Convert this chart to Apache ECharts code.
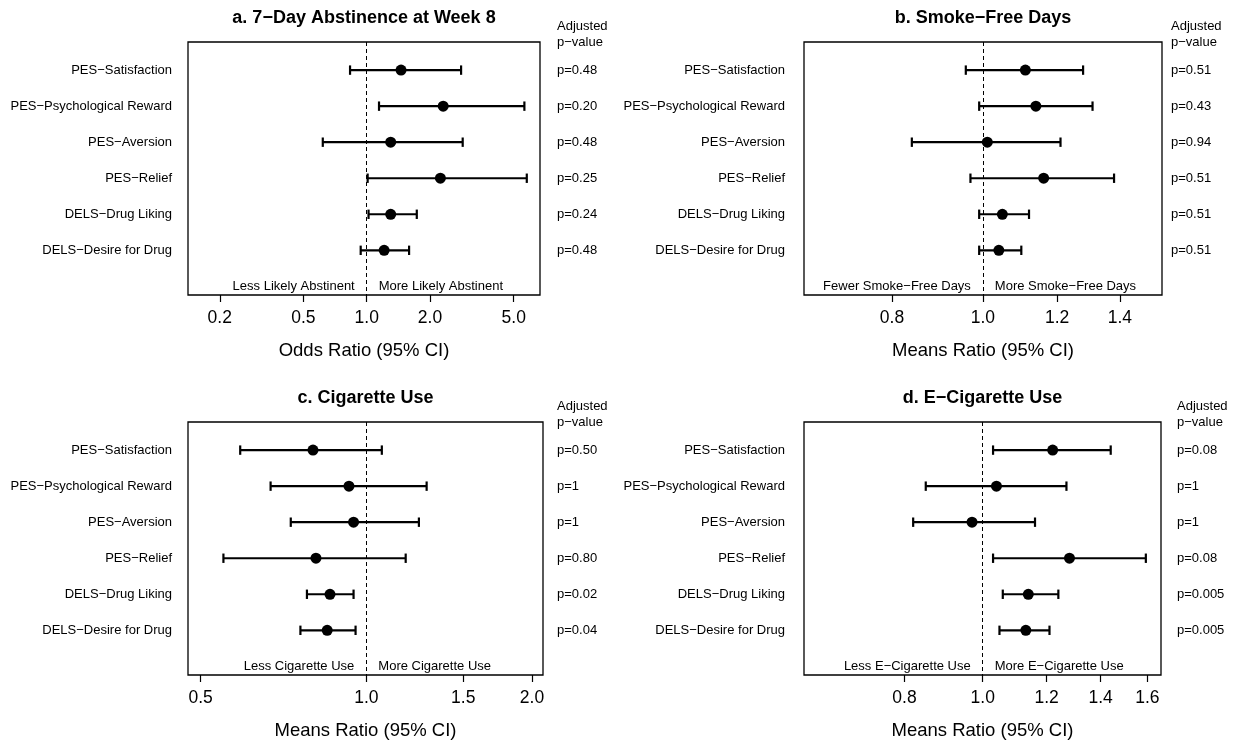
<!DOCTYPE html>
<html><head><meta charset="utf-8">
<script src="https://cdn.jsdelivr.net/npm/echarts@6/dist/echarts.min.js"></script>
<style>html,body{margin:0;padding:0;background:#fff}#c{width:1246px;height:743px}</style>
</head><body><div id="c"></div>
<script>
// ---------- data ----------
const rowLabels = ["PES−Satisfaction","PES−Psychological Reward","PES−Aversion","PES−Relief","DELS−Drug Liking","DELS−Desire for Drug"];

const aTitle = "a. 7−Day Abstinence at Week 8";
const aEst  = [1.456, 2.31, 1.30, 2.24, 1.30, 1.21];
const aLow  = [0.833, 1.144, 0.618, 1.01, 1.02, 0.936];
const aHigh = [2.81, 5.62, 2.86, 5.77, 1.73, 1.59];
const aP    = ["p=0.48","p=0.20","p=0.48","p=0.25","p=0.24","p=0.48"];
const aTicks = [0.2, 0.5, 1.0, 2.0, 5.0];
const aTickLabels = ["0.2","0.5","1.0","2.0","5.0"];
const aAxisName = "Odds Ratio (95% CI)";
const aNotes = ["Less Likely Abstinent","More Likely Abstinent"];

const bTitle = "b. Smoke−Free Days";
const bEst  = [1.110, 1.139, 1.011, 1.161, 1.049, 1.040];
const bLow  = [0.959, 0.991, 0.840, 0.970, 0.991, 0.991];
const bHigh = [1.279, 1.309, 1.210, 1.380, 1.120, 1.099];
const bP    = ["p=0.51","p=0.43","p=0.94","p=0.51","p=0.51","p=0.51"];
const bTicks = [0.8, 1.0, 1.2, 1.4];
const bTickLabels = ["0.8","1.0","1.2","1.4"];
const bAxisName = "Means Ratio (95% CI)";
const bNotes = ["Fewer Smoke−Free Days","More Smoke−Free Days"];

const cTitle = "c. Cigarette Use";
const cEst  = [0.800, 0.930, 0.948, 0.810, 0.859, 0.849];
const cLow  = [0.590, 0.670, 0.729, 0.550, 0.780, 0.759];
const cHigh = [1.067, 1.287, 1.246, 1.179, 0.948, 0.956];
const cP    = ["p=0.50","p=1","p=1","p=0.80","p=0.02","p=0.04"];
const cTicks = [0.5, 1.0, 1.5, 2.0];
const cTickLabels = ["0.5","1.0","1.5","2.0"];
const cAxisName = "Means Ratio (95% CI)";
const cNotes = ["Less Cigarette Use","More Cigarette Use"];

const dTitle = "d. E−Cigarette Use";
const dEst  = [1.221, 1.040, 0.970, 1.281, 1.139, 1.131];
const dLow  = [1.030, 0.850, 0.820, 1.030, 1.059, 1.049];
const dHigh = [1.441, 1.270, 1.161, 1.593, 1.241, 1.210];
const dP    = ["p=0.08","p=1","p=1","p=0.08","p=0.005","p=0.005"];
const dTicks = [0.8, 1.0, 1.2, 1.4, 1.6];
const dTickLabels = ["0.8","1.0","1.2","1.4","1.6"];
const dAxisName = "Means Ratio (95% CI)";
const dNotes = ["Less E−Cigarette Use","More E−Cigarette Use"];

// ---------- layout ----------
const FONT = "'Liberation Sans', Arial, Helvetica, sans-serif";
const L10 = Math.log10;
const panels = [
  {title:aTitle, est:aEst, low:aLow, high:aHigh, p:aP, ticks:aTicks, tl:aTickLabels, name:aAxisName, notes:aNotes,
   left:188, top:42, width:352, xmin:-0.85, xmax:0.824, pGap:17, labGap:16, hdrX:557},
  {title:bTitle, est:bEst, low:bLow, high:bHigh, p:bP, ticks:bTicks, tl:bTickLabels, name:bAxisName, notes:bNotes,
   left:804, top:42, width:358, xmin:-0.1907, xmax:0.191, pGap:9, labGap:19, hdrX:1171},
  {title:cTitle, est:cEst, low:cLow, high:cHigh, p:cP, ticks:cTicks, tl:cTickLabels, name:cAxisName, notes:cNotes,
   left:188, top:422, width:355, xmin:-0.324, xmax:0.321, pGap:14, labGap:16, hdrX:557},
  {title:dTitle, est:dEst, low:dLow, high:dHigh, p:dP, ticks:dTicks, tl:dTickLabels, name:dAxisName, notes:dNotes,
   left:804, top:422, width:357, xmin:-0.2215, xmax:0.221, pGap:16, labGap:19, hdrX:1177}
];
const H = 253, YMIN = 0.22, YMAX = 7.24;

const grid = [], xAxis = [], yAxis = [], series = [], graphic = [];
panels.forEach((P, i) => {
  grid.push({left:P.left, top:P.top, width:P.width, height:H, show:true, borderColor:'#000', borderWidth:1.3, backgroundColor:'transparent'});
  const tv = P.ticks.map(L10);
  xAxis.push({
    gridIndex:i, type:'value', min:P.xmin, max:P.xmax,
    axisLine:{show:false}, splitLine:{show:false},
    axisTick:{show:true, customValues:tv, length:7, lineStyle:{color:'#000', width:1.2}},
    axisLabel:{customValues:tv, margin:14, fontSize:17.5, color:'#000', fontFamily:FONT,
      formatter:(v)=>{ let k=0, best=1e9; tv.forEach((t,j)=>{const d=Math.abs(t-v); if(d<best){best=d;k=j;}}); return P.tl[k]; }},
    name:P.name, nameLocation:'middle', nameGap:46,
    nameTextStyle:{fontSize:18.5, color:'#000', fontFamily:FONT}
  });
  const rows = [1,2,3,4,5,6];
  yAxis.push({
    gridIndex:i, type:'value', inverse:true, min:YMIN, max:YMAX, position:'left',
    axisLine:{show:false}, axisTick:{show:false}, splitLine:{show:false},
    axisLabel:{customValues:rows, margin:P.labGap, fontSize:13, color:'#000', fontFamily:FONT,
      formatter:(v)=>rowLabels[Math.round(v)-1]}
  });
  yAxis.push({
    gridIndex:i, type:'value', inverse:true, min:YMIN, max:YMAX, position:'right',
    axisLine:{show:false}, axisTick:{show:false}, splitLine:{show:false},
    axisLabel:{customValues:rows, margin:P.pGap, fontSize:13, color:'#000', fontFamily:FONT,
      formatter:(v)=>P.p[Math.round(v)-1]}
  });
  // error bars
  series.push({
    type:'custom', xAxisIndex:i, yAxisIndex:2*i,
    data: P.low.map((lo, j) => [L10(lo), L10(P.high[j]), j+1]),
    encode:{x:[0,1], y:2},
    renderItem:(params, api) => {
      const y = api.value(2);
      const p1 = api.coord([api.value(0), y]);
      const p2 = api.coord([api.value(1), y]);
      const h = 4.7, st = {stroke:'#000', lineWidth:2.2};
      return {type:'group', children:[
        {type:'line', shape:{x1:p1[0], y1:p1[1], x2:p2[0], y2:p2[1]}, style:st},
        {type:'line', shape:{x1:p1[0], y1:p1[1]-h, x2:p1[0], y2:p1[1]+h}, style:st},
        {type:'line', shape:{x1:p2[0], y1:p2[1]-h, x2:p2[0], y2:p2[1]+h}, style:st}
      ]};
    },
    silent:true, z:2
  });
  // point estimates + reference line
  series.push({
    type:'scatter', xAxisIndex:i, yAxisIndex:2*i,
    data: P.est.map((e, j) => [L10(e), j+1]),
    symbol:'circle', symbolSize:11, itemStyle:{color:'#000', opacity:1}, z:3, silent:true,
    markLine:{silent:true, symbol:'none', label:{show:false},
      lineStyle:{color:'#000', type:[4,3], width:1, opacity:1},
      data:[{xAxis:0}]}
  });
  // direction notes
  series.push({
    type:'scatter', xAxisIndex:i, yAxisIndex:2*i, symbolSize:0, silent:true,
    itemStyle:{opacity:1},
    data:[
      {value:[0, 7], label:{show:true, position:'left', distance:12, formatter:P.notes[0]}},
      {value:[0, 7], label:{show:true, position:'right', distance:12, formatter:P.notes[1]}}
    ],
    label:{fontSize:13, color:'#000', fontFamily:FONT}
  });
  // panel title and p-value header
  graphic.push({type:'text', x:P.left + P.width/2, y:P.top - 24,
    style:{text:P.title, font:"bold 18px " + FONT, fill:'#000', textAlign:'center', textVerticalAlign:'middle'}});
  graphic.push({type:'text', x:P.hdrX, y:P.top - 8,
    style:{text:"Adjusted\np−value", font:"13px " + FONT, fill:'#000', textAlign:'left', textVerticalAlign:'middle', lineHeight:16}});
});

const chart = echarts.init(document.getElementById('c'), null, {renderer:'canvas'});
chart.setOption({animation:false, backgroundColor:'#fff', grid, xAxis, yAxis, series, graphic});
</script>
</body></html>
